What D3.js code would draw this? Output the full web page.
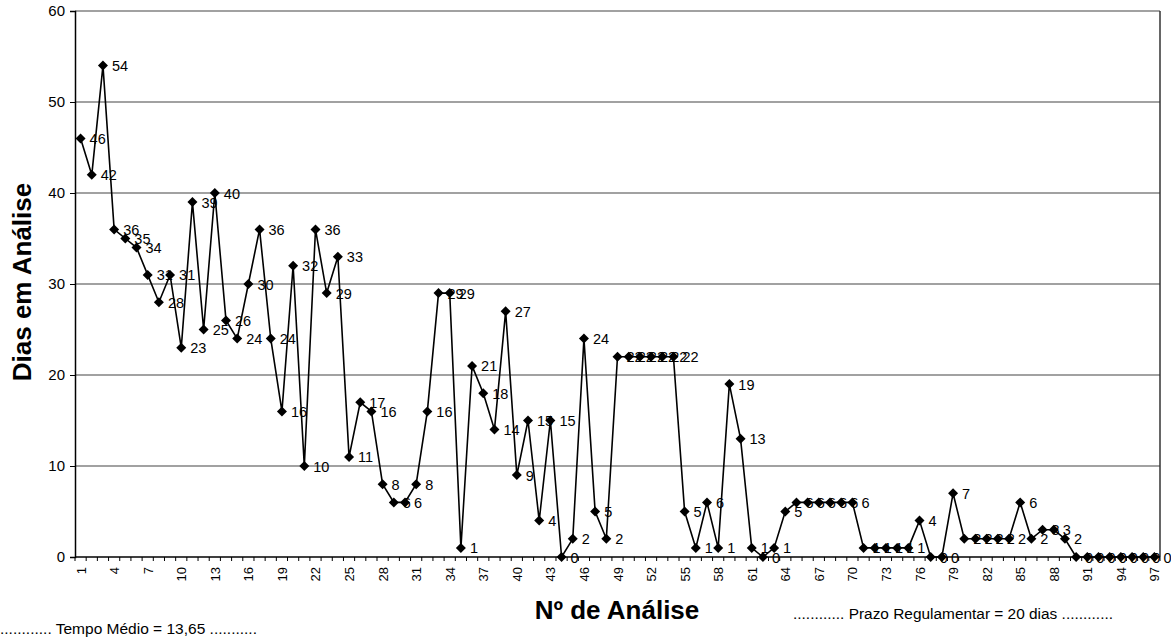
<!DOCTYPE html>
<html>
<head>
<meta charset="utf-8">
<script src="https://cdn.jsdelivr.net/npm/d3@7"></script>
<style>
  body { margin: 0; background: #fff; }
  svg { display: block; }
  text { font-family: Arial, "Liberation Sans", sans-serif; fill: #000; }
</style>
</head>
<body>
<svg id="chart" width="1171" height="638"></svg>
<script>
// ---- data ----
const categories = d3.range(1, 98); // Nº de Análise 1..97
const dias = [
  46, 42, 54, 36, 35, 34, 31, 28, 31, 23,
  39, 25, 40, 26, 24, 30, 36, 24, 16, 32,
  10, 36, 29, 33, 11, 17, 16, 8, 6, 6,
  8, 16, 29, 29, 1, 21, 18, 14, 27, 9,
  15, 4, 15, 0, 2, 24, 5, 2, 22, 22,
  22, 22, 22, 22, 5, 1, 6, 1, 19, 13,
  1, 0, 1, 5, 6, 6, 6, 6, 6, 6,
  1, 1, 1, 1, 1, 4, 0, 0, 7, 2,
  2, 2, 2, 2, 6, 2, 3, 3, 2, 0,
  0, 0, 0, 0, 0, 0, 0
];
const yTicks = [0, 10, 20, 30, 40, 50, 60];
const xTickLabels = categories.filter(c => (c - 1) % 3 === 0);
const yTitle = "Dias em Análise";
const xTitle = "Nº de Análise";
const noteLeft = "............ Tempo Médio = 13,65 ...........";
const noteRight = "............ Prazo Regulamentar = 20 dias ............";

// ---- layout ----
const svg = d3.select("#chart");
const L = 75, R = 1160, T = 11, B = 557;

const x = d3.scaleBand().domain(categories).range([L, R]).padding(0);
const y = d3.scaleLinear().domain([0, 60]).range([B, T]);
const cx = c => x(c) + x.bandwidth() / 2;

// gridlines
svg.append("g").selectAll("line").data(yTicks.filter(v => v > 0)).join("line")
  .attr("x1", L).attr("x2", R)
  .attr("y1", d => y(d)).attr("y2", d => y(d))
  .attr("stroke", "#444").attr("stroke-width", 1.2);

// right border
svg.append("line").attr("x1", R).attr("x2", R).attr("y1", T).attr("y2", B)
  .attr("stroke", "#333").attr("stroke-width", 1.5);

// y axis
const yAxis = d3.axisLeft(y).tickValues(yTicks).tickSize(5).tickPadding(5);
const gy = svg.append("g").attr("transform", `translate(${L},0)`).call(yAxis);
gy.select(".domain").attr("stroke", "#000").attr("stroke-width", 1.5);
gy.selectAll(".tick line").attr("stroke", "#000");
gy.selectAll(".tick text").attr("font-size", 15).attr("font-family", "Arial, 'Liberation Sans', sans-serif");

// x axis line
svg.append("line").attr("x1", L).attr("x2", R).attr("y1", B).attr("y2", B)
  .attr("stroke", "#000").attr("stroke-width", 1.5);
// category boundary ticks
svg.append("g").selectAll("line").data(categories.concat([null])).join("line")
  .attr("x1", (d, i) => L + i * x.bandwidth())
  .attr("x2", (d, i) => L + i * x.bandwidth())
  .attr("y1", B).attr("y2", B + 4)
  .attr("stroke", "#000").attr("stroke-width", 1);
// x tick labels (rotated)
svg.append("g").selectAll("text").data(xTickLabels).join("text")
  .attr("transform", d => `translate(${cx(d) + 5},${B + 10}) rotate(-90)`)
  .attr("text-anchor", "end")
  .attr("font-size", 13)
  .text(d => d);

// line
const line = d3.line().x((d, i) => cx(categories[i])).y(d => y(d));
svg.append("path").datum(dias)
  .attr("d", line)
  .attr("fill", "none").attr("stroke", "#000").attr("stroke-width", 1.6);

// markers (diamonds = rotated squares)
const diamond = d3.symbol().type(d3.symbolSquare).size(50);
svg.append("g").selectAll("path").data(dias).join("path")
  .attr("d", diamond)
  .attr("transform", (d, i) => `translate(${cx(categories[i])},${y(d)}) rotate(45)`)
  .attr("fill", "#000");

// data labels
svg.append("g").selectAll("text").data(dias).join("text")
  .attr("x", (d, i) => cx(categories[i]) + 9)
  .attr("y", d => y(d) + 5.5)
  .attr("font-size", 14.5)
  .text(d => d);

// axis titles
svg.append("text")
  .attr("transform", `translate(31,282) rotate(-90)`)
  .attr("text-anchor", "middle")
  .attr("font-size", 26).attr("font-weight", "bold")
  .text(yTitle);
svg.append("text")
  .attr("x", 617).attr("y", 619)
  .attr("text-anchor", "middle")
  .attr("font-size", 26).attr("font-weight", "bold")
  .text(xTitle);

// notes
svg.append("text").attr("x", 0).attr("y", 634).attr("font-size", 14)
  .attr("textLength", 257).attr("lengthAdjust", "spacingAndGlyphs").text(noteLeft);
svg.append("text").attr("x", 793).attr("y", 619).attr("font-size", 14)
  .attr("textLength", 320).attr("lengthAdjust", "spacingAndGlyphs").text(noteRight);
</script>
</body>
</html>
